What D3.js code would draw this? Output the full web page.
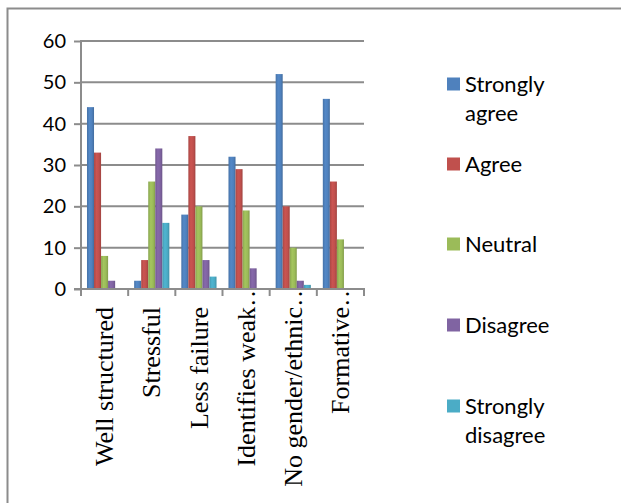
<!DOCTYPE html>
<html>
<head>
<meta charset="utf-8">
<script src="https://cdn.jsdelivr.net/npm/d3@7"></script>
<style>
  html, body { margin: 0; padding: 0; background: #fff; }
  svg { display: block; }
</style>
</head>
<body>
<svg id="chart" width="621" height="503"></svg>
<script>
// Survey statements (x categories); a trailing "…" marks a shortened label
const categories = ["Well structured", "Stressful", "Less failure", "Identifies weak…", "No gender/ethnic…", "Formative…"];

// Responses per statement, one array per answer
const stronglyAgree    = [44, 2, 18, 32, 52, 46];
const agree            = [33, 7, 37, 29, 20, 26];
const neutral          = [8, 26, 20, 19, 10, 12];
const disagree         = [2, 34, 7, 5, 2, 0];
const stronglyDisagree = [0, 16, 3, 0, 1, 0];

const seriesNames = ["Strongly agree", "Agree", "Neutral", "Disagree", "Strongly disagree"];
const seriesValues = [stronglyAgree, agree, neutral, disagree, stronglyDisagree];
const colors = ["#4F81BD", "#C0504D", "#9BBB59", "#8064A2", "#4BACC6"];

const yTicks = [0, 10, 20, 30, 40, 50, 60];

const svg = d3.select("#chart");

// outer frame (top and left edges)
svg.append("path")
  .attr("d", "M7.5,503 V8.5 H621")
  .attr("fill", "none")
  .attr("stroke", "#8c8c8c")
  .attr("stroke-width", 2);

const plot = { left: 81, right: 364, top: 41, bottom: 289 };

const y = d3.scaleLinear().domain([0, 60]).range([plot.bottom, plot.top]);
const x = d3.scaleBand().domain(categories).range([plot.left, plot.right]).padding(0);
const xs = d3.scaleBand().domain(seriesNames).range([0, x.bandwidth()])
  .paddingInner(0).paddingOuter(0.85);

const defs = svg.append("defs");
// gradients for the shaded bars
colors.forEach((c, i) => {
  const g = defs.append("linearGradient").attr("id", "grad" + i)
    .attr("x1", "0").attr("x2", "1").attr("y1", "0").attr("y2", "0");
  const base = d3.color(c);
  g.append("stop").attr("offset", "0%").attr("stop-color", base.darker(0.35));
  g.append("stop").attr("offset", "35%").attr("stop-color", base.brighter(0.15));
  g.append("stop").attr("offset", "70%").attr("stop-color", base);
  g.append("stop").attr("offset", "100%").attr("stop-color", base.darker(0.5));
});
// category labels stay below the axis line
defs.append("clipPath").attr("id", "labelClip")
  .append("rect").attr("x", 0).attr("y", plot.bottom + 1).attr("width", 621).attr("height", 503);

// horizontal gridlines
svg.append("g")
  .selectAll("line")
  .data(yTicks.filter(t => t > 0))
  .join("line")
  .attr("x1", plot.left).attr("x2", plot.right)
  .attr("y1", d => y(d)).attr("y2", d => y(d))
  .attr("stroke", "#8c8c8c")
  .attr("stroke-width", 2);

// bars
seriesNames.forEach((name, si) => {
  svg.append("g")
    .selectAll("rect")
    .data(seriesValues[si].map((v, ci) => ({ cat: categories[ci], v })))
    .join("rect")
    .attr("x", d => x(d.cat) + xs(name))
    .attr("y", d => y(d.v))
    .attr("width", xs.bandwidth())
    .attr("height", d => y(0) - y(d.v))
    .attr("fill", "url(#grad" + si + ")");
});

// y axis
const yAxis = svg.append("g")
  .attr("transform", `translate(${plot.left},0)`)
  .call(d3.axisLeft(y).tickValues(yTicks).tickSize(7).tickPadding(8));
yAxis.select(".domain").attr("stroke", "#8c8c8c").attr("stroke-width", 2)
  .attr("d", `M0,${plot.top - 1}V${plot.bottom}`);
yAxis.selectAll(".tick line").attr("stroke", "#8c8c8c").attr("stroke-width", 2);
yAxis.selectAll(".tick text")
  .attr("fill", "#000")
  .style("font-family", "Lato, 'Open Sans', sans-serif")
  .style("font-size", "20px");

// x axis line and boundary ticks
const xg = svg.append("g");
xg.append("line")
  .attr("x1", plot.left - 7).attr("x2", plot.right + 1)
  .attr("y1", y(0)).attr("y2", y(0))
  .attr("stroke", "#8c8c8c").attr("stroke-width", 2);
const bounds = categories.map(c => x(c)).concat([x(categories[categories.length - 1]) + x.bandwidth()]);
xg.selectAll("line.bt")
  .data(bounds)
  .join("line")
  .attr("class", "bt")
  .attr("x1", d => d).attr("x2", d => d)
  .attr("y1", y(0)).attr("y2", y(0) + 7)
  .attr("stroke", "#8c8c8c").attr("stroke-width", 2);

// category labels, rotated to read upward
const labelTop = 307;
const labels = svg.append("g").attr("clip-path", "url(#labelClip)");
categories.forEach(c => {
  const cx = x(c) + x.bandwidth() / 2;
  const t = labels.append("text")
    .attr("text-anchor", "end")
    .attr("dy", "0.33em")
    .style("font-family", "'Liberation Serif', 'Times New Roman', serif")
    .style("font-size", "26px")
    .attr("fill", "#000");
  const truncated = c.endsWith("…");
  const base = truncated ? c.slice(0, -1) : c;
  t.append("tspan").text(base);
  let shift = 0;
  if (truncated) {
    const e = t.append("tspan").text("…");
    shift = e.node().getComputedTextLength();
  }
  t.attr("transform", `translate(${cx},${labelTop - shift}) rotate(-90)`);
});

// legend
const legendRows = [
  { lines: ["Strongly", "agree"], cy: 84 },
  { lines: ["Agree"], cy: 164 },
  { lines: ["Neutral"], cy: 244 },
  { lines: ["Disagree"], cy: 325 },
  { lines: ["Strongly", "disagree"], cy: 406 }
];
const legend = svg.append("g");
legendRows.forEach((row, i) => {
  legend.append("rect")
    .attr("x", 447).attr("y", row.cy - 6.5)
    .attr("width", 13).attr("height", 13)
    .attr("fill", colors[i]);
  const t = legend.append("text")
    .attr("x", 465).attr("y", row.cy)
    .style("font-family", "Lato, 'Open Sans', sans-serif")
    .style("font-size", "22px")
    .attr("fill", "#000");
  row.lines.forEach((ln, li) => {
    t.append("tspan").attr("x", 465).attr("dy", li === 0 ? "0.36em" : "1.3em").text(ln);
  });
});
</script>
</body>
</html>
